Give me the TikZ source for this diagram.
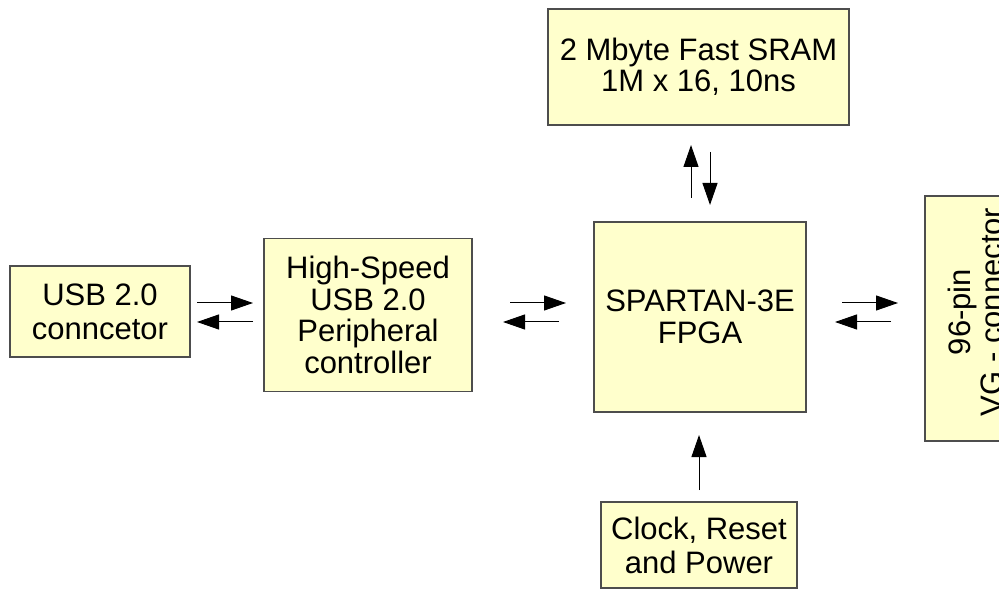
\documentclass[tikz,border=0pt]{standalone}
\usepackage{fontspec}
\setmainfont{Liberation Sans}
\usetikzlibrary{arrows.meta}
\definecolor{boxfill}{HTML}{FFFFCC}
\definecolor{boxline}{HTML}{4D4D4D}
\tikzset{
  blk/.style={draw=boxline, fill=boxfill, line width=0.75pt, inner sep=0pt,
    align=center, font=\fontsize{15.5pt}{15.7pt}\selectfont},
  wide/.style={font=\fontsize{15.5pt}{17pt}\selectfont},
  lbl/.style={inner sep=0pt, align=center, font=\fontsize{15.5pt}{16pt}\selectfont},
  arr/.style={line width=0.5pt, -{Triangle[length=11pt,width=7.5pt]}}
}
\begin{document}
\begin{tikzpicture}[x=0.5pt,y=-0.5pt]
\useasboundingbox (0,0) rectangle (999,592);
\clip (0,0) rectangle (999,592);
\fill[white] (0,0) rectangle (999,592);
% blocks
\node[blk, wide, minimum width=90pt, minimum height=45.5pt] (usb) at (100,311.5) {USB 2.0\\conncetor};
\node[blk, minimum width=104pt, minimum height=76.5pt] (hs) at (368,315) {High-Speed\\USB 2.0\\Peripheral\\controller};
\node[blk, minimum width=106pt, minimum height=95pt] (fpga) at (700,317) {SPARTAN-3E\\FPGA};
\node[blk, minimum width=150.5pt, minimum height=58pt] (sram) at (698.5,67) {2 Mbyte Fast SRAM\\1M x 16, 10ns};
\node[blk, wide, minimum width=98pt, minimum height=43pt] (clk) at (699,545) {Clock, Reset\\and Power};
\node[blk, minimum width=60pt, minimum height=122.5pt] (vg) at (985,318.5) {};
\node[lbl, rotate=90] (vgtext) at (975,312) {96-pin\\VG - connector};
% arrow end points
\coordinate (a1s) at (197,303); \coordinate (a1e) at (253,303);
\coordinate (a2s) at (253,322); \coordinate (a2e) at (197,322);
\coordinate (b1s) at (510,303); \coordinate (b1e) at (566,303);
\coordinate (b2s) at (559,322); \coordinate (b2e) at (503,322);
\coordinate (c1s) at (842,303); \coordinate (c1e) at (898,303);
\coordinate (c2s) at (891,322); \coordinate (c2e) at (835,322);
\coordinate (d1s) at (691,198); \coordinate (d1e) at (691,145);
\coordinate (d2s) at (710,152); \coordinate (d2e) at (710,205);
\coordinate (e1s) at (699,490); \coordinate (e1e) at (699,435);
% arrows
\draw[arr] (a1s) -- (a1e);
\draw[arr] (a2s) -- (a2e);
\draw[arr] (b1s) -- (b1e);
\draw[arr] (b2s) -- (b2e);
\draw[arr] (c1s) -- (c1e);
\draw[arr] (c2s) -- (c2e);
\draw[arr] (d1s) -- (d1e);
\draw[arr] (d2s) -- (d2e);
\draw[arr] (e1s) -- (e1e);
\end{tikzpicture}
\end{document}
